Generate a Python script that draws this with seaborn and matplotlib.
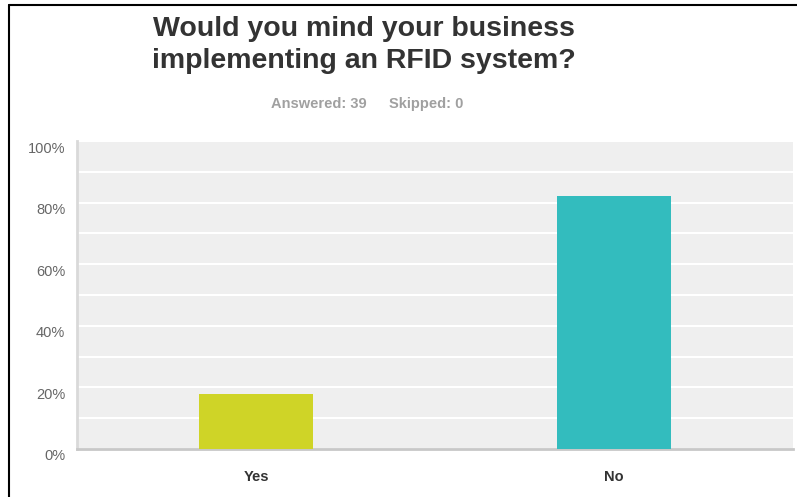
import matplotlib
matplotlib.use("Agg")
import matplotlib.pyplot as plt
import matplotlib.transforms as mtransforms
from matplotlib.lines import Line2D
import seaborn as sns
import pandas as pd

# Survey answers and their shares (%)
categories = ["Yes", "No"]
percentages = [17.95, 82.05]
bar_colors = ["#cfd427", "#33bcbe"]
y_ticks = [0, 20, 40, 60, 80, 100]
y_tick_labels = ["0%", "20%", "40%", "60%", "80%", "100%"]
title_lines = ["Would you mind your business", "implementing an RFID system?"]
answered_text = "Answered: 39"
skipped_text = "Skipped: 0"

sns.set_style("white")
plt.rcParams["font.family"] = ["Liberation Sans", "DejaVu Sans"]

df = pd.DataFrame({"answer": categories, "share": percentages})

W, H = 797, 497
fig = plt.figure(figsize=(W / 100, H / 100), dpi=100)
ax = fig.add_axes([77 / W, 1 - 449 / H, (793 - 77) / W, (449 - 141) / H])

sns.barplot(data=df, x="answer", y="share", hue="answer", palette=bar_colors,
            width=0.32, legend=False, ax=ax, saturation=1, linewidth=0, zorder=3)

ax.set_facecolor("#efefef")
ax.set_xlim(-0.5, 1.5)
ax.set_ylim(0, 100)
ax.set_yticks(y_ticks)
ax.set_yticklabels(y_tick_labels)
ax.set_yticks(range(10, 100, 20), minor=True)
ax.grid(axis="y", which="both", color="white", linewidth=1.5, zorder=1)
ax.set_axisbelow(True)
ax.set_xlabel("")
ax.set_ylabel("")

ax.tick_params(axis="y", which="both", length=0, pad=8.5, labelsize=10.5, labelcolor="#666666")
ax.tick_params(axis="x", length=0, pad=15, labelsize=10.5, labelcolor="#333333")
for lbl in ax.get_xticklabels():
    lbl.set_fontweight("bold")

# Percent labels sit a little below their gridlines
shift = mtransforms.ScaledTranslation(0, -6 / 100, fig.dpi_scale_trans)
for lbl in ax.get_yticklabels():
    lbl.set_transform(lbl.get_transform() + shift)

for side in ["top", "right"]:
    ax.spines[side].set_visible(False)
ax.spines["left"].set_color("#d9d9d9")
ax.spines["left"].set_linewidth(2)
ax.spines["bottom"].set_color("#c8c8c8")
ax.spines["bottom"].set_linewidth(2)

# Title block
fig.text(364 / W, 1 - 36.5 / H, title_lines[0], ha="center", va="baseline",
         fontsize=20.5, fontweight="bold", color="#333333")
fig.text(364 / W, 1 - 68 / H, title_lines[1], ha="center", va="baseline",
         fontsize=20.5, fontweight="bold", color="#333333")
fig.text(367 / W, 1 - 108 / H, answered_text, ha="right", va="baseline",
         fontsize=10.5, fontweight="bold", color="#a0a0a0")
fig.text(389 / W, 1 - 108 / H, skipped_text, ha="left", va="baseline",
         fontsize=10.5, fontweight="bold", color="#a0a0a0")

# Frame lines along the top and left edges
fig.add_artist(Line2D([9 / W, 1], [1 - 5 / H, 1 - 5 / H], color="black", linewidth=1.5,
                      transform=fig.transFigure))
fig.add_artist(Line2D([9 / W, 9 / W], [0, 1 - 5 / H], color="black", linewidth=1.5,
                      transform=fig.transFigure))

fig.savefig("out.png", dpi=100, facecolor="white")
